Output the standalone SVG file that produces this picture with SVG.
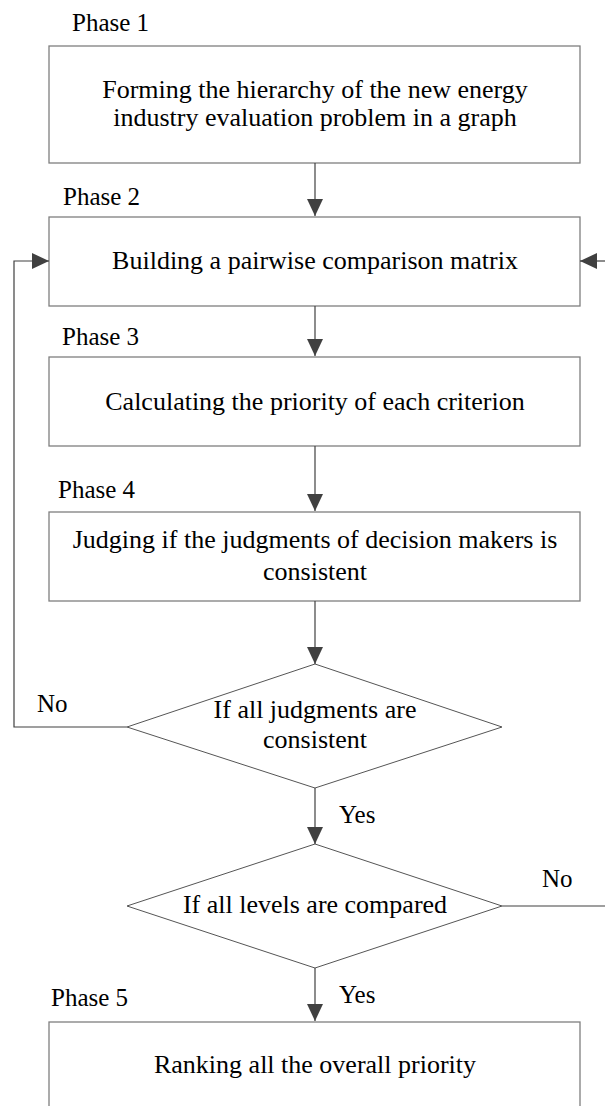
<svg xmlns="http://www.w3.org/2000/svg" width="605" height="1106" viewBox="0 0 605 1106">
<style>
.box{fill:#fff;stroke:#7f7f7f;stroke-width:1.3}
.dia{fill:#fff;stroke:#555;stroke-width:1}
.t{font-family:"Liberation Serif","Times New Roman",serif;font-size:26px;fill:#000;text-anchor:middle}
.lab{font-family:"Liberation Serif","Times New Roman",serif;font-size:25px;fill:#000}
.c{fill:none;stroke:#404040;stroke-width:1.2}
</style>
<defs>
<marker id="ah" markerWidth="17" markerHeight="16" refX="17" refY="8" orient="auto" markerUnits="userSpaceOnUse">
<path d="M0,0 L17,8 L0,16 Z" fill="#404040"/>
</marker>
</defs>
<rect width="605" height="1106" fill="#fff"/>
<g id="phase-labels">
<text class="lab" x="72" y="31">Phase 1</text>
<text class="lab" x="63" y="205">Phase 2</text>
<text class="lab" x="62" y="345">Phase 3</text>
<text class="lab" x="58" y="498">Phase 4</text>
<text class="lab" x="51" y="1006">Phase 5</text>
</g>
<g id="node1">
<rect class="box" x="49" y="46" width="531" height="117"/>
<text class="t" x="315" y="98">Forming the hierarchy of the new energy</text>
<text class="t" x="315" y="126">industry evaluation problem in a graph</text>
</g>
<g id="node2">
<rect class="box" x="49" y="217" width="531" height="89"/>
<text class="t" x="315" y="269">Building a pairwise comparison matrix</text>
</g>
<g id="node3">
<rect class="box" x="49" y="357" width="531" height="89"/>
<text class="t" x="315" y="410">Calculating the priority of each criterion</text>
</g>
<g id="node4">
<rect class="box" x="49" y="512" width="531" height="89"/>
<text class="t" x="315" y="548">Judging if the judgments of decision makers is</text>
<text class="t" x="315" y="580">consistent</text>
</g>
<g id="decision1">
<polygon class="dia" points="315,664 502,727 315,788 127,727"/>
<text class="t" x="315" y="718">If all judgments are</text>
<text class="t" x="315" y="748">consistent</text>
</g>
<g id="decision2">
<polygon class="dia" points="315,844 502,906 315,968 127,906"/>
<text class="t" x="315" y="913">If all levels are compared</text>
</g>
<g id="node5">
<rect class="box" x="49" y="1022" width="531" height="100"/>
<text class="t" x="315" y="1073">Ranking all the overall priority</text>
</g>
<g id="connectors">
<line class="c" x1="315" y1="163" x2="315" y2="216" marker-end="url(#ah)"/>
<line class="c" x1="315" y1="306" x2="315" y2="356" marker-end="url(#ah)"/>
<line class="c" x1="315" y1="446" x2="315" y2="511" marker-end="url(#ah)"/>
<line class="c" x1="315" y1="601" x2="315" y2="664" marker-end="url(#ah)"/>
<line class="c" x1="315" y1="788" x2="315" y2="844" marker-end="url(#ah)"/>
<line class="c" x1="315" y1="968" x2="315" y2="1021" marker-end="url(#ah)"/>
<polyline class="c" points="127,727 14,727 14,261 49,261" marker-end="url(#ah)"/>
<line class="c" x1="502" y1="906" x2="605" y2="906"/>
<line class="c" x1="605" y1="261" x2="580" y2="261" marker-end="url(#ah)"/>
<text class="lab" x="37" y="712">No</text>
<text class="lab" x="542" y="887">No</text>
<text class="lab" x="339" y="823">Yes</text>
<text class="lab" x="339" y="1003">Yes</text>
</g>
</svg>
